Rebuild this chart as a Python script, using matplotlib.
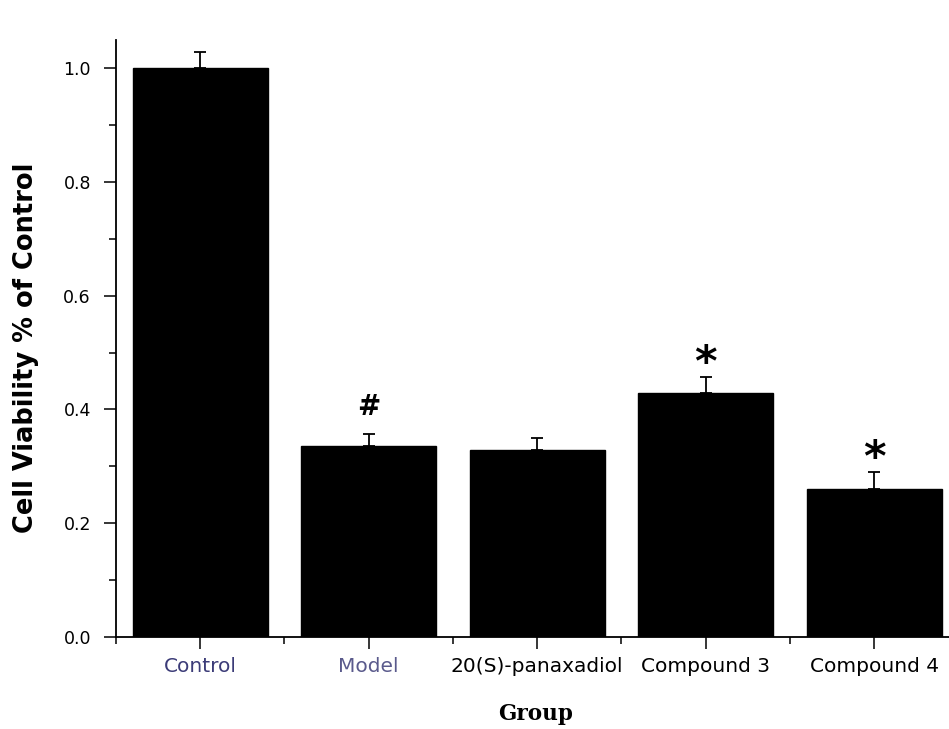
import matplotlib.pyplot as plt
import numpy as np
from matplotlib.ticker import MultipleLocator

groups = ["Control", "Model", "20(S)-panaxadiol", "Compound 3", "Compound 4"]
viability = [1.0, 0.336, 0.328, 0.428, 0.260]
sem = [0.029, 0.021, 0.022, 0.029, 0.030]
marks = ["", "#", "", "*", "*"]
label_colors = ["#3c3c78", "#5a5a8c", "black", "black", "black"]

plt.rcParams['font.family'] = ['DejaVu Sans']

fig = plt.figure(figsize=(9.49, 7.29), dpi=100)
# right edge runs slightly past the figure, so the axis line is clipped there
ax = fig.add_axes([0.1222, 0.1266, 0.8878, 0.8185])

x = np.arange(1, len(groups) + 1)
ax.bar(x, viability, width=0.8, color="black", edgecolor="black", linewidth=1,
       zorder=2)
ax.errorbar(x, viability, yerr=[np.zeros(len(sem)), sem], fmt="none",
            ecolor="black", elinewidth=1.3, capsize=4.5, capthick=1.3,
            zorder=3)

for xi, v, e, m in zip(x, viability, sem, marks):
    if m == "#":
        ax.text(xi, v + e + 0.022, m, ha="center", va="bottom",
                fontsize=20, fontweight="bold")
    elif m == "*":
        ax.text(xi, v + e - 0.014, m, ha="center", va="bottom",
                fontsize=31, fontweight="bold")

ax.set_xlim(0.5, 5.5)
ax.set_ylim(0, 1.05)
ax.set_yticks([0.0, 0.2, 0.4, 0.6, 0.8, 1.0])
ax.yaxis.set_minor_locator(MultipleLocator(0.1))
ax.set_xticks(x)
ax.set_xticks(np.arange(0.5, 6.0, 1.0), minor=True)
ax.set_xticklabels(groups)
for lbl, c in zip(ax.get_xticklabels(), label_colors):
    lbl.set_color(c)

ax.tick_params(axis="both", which="major", direction="out", length=8.5,
               width=1.1)
ax.tick_params(axis="both", which="minor", direction="out", length=5,
               width=1.1)
ax.tick_params(axis="y", which="major", labelsize=12.5, pad=9.5)
ax.tick_params(axis="x", which="major", labelsize=14.5, pad=6)

for side in ("top", "right"):
    ax.spines[side].set_visible(False)
for side in ("left", "bottom"):
    ax.spines[side].set_linewidth(1.3)

ax.set_ylabel("Cell Viability % of Control", fontsize=18.5, fontweight="bold")
ax.yaxis.set_label_coords(-0.107, 0.485)
ax.set_xlabel("Group", fontsize=15.5, fontweight="bold", family="DejaVu Serif")
ax.xaxis.set_label_coords(0.4985, -0.13)
ax.xaxis.label.set_va("center")
ax.yaxis.label.set_va("center")

fig.savefig("out.png", dpi=100)
